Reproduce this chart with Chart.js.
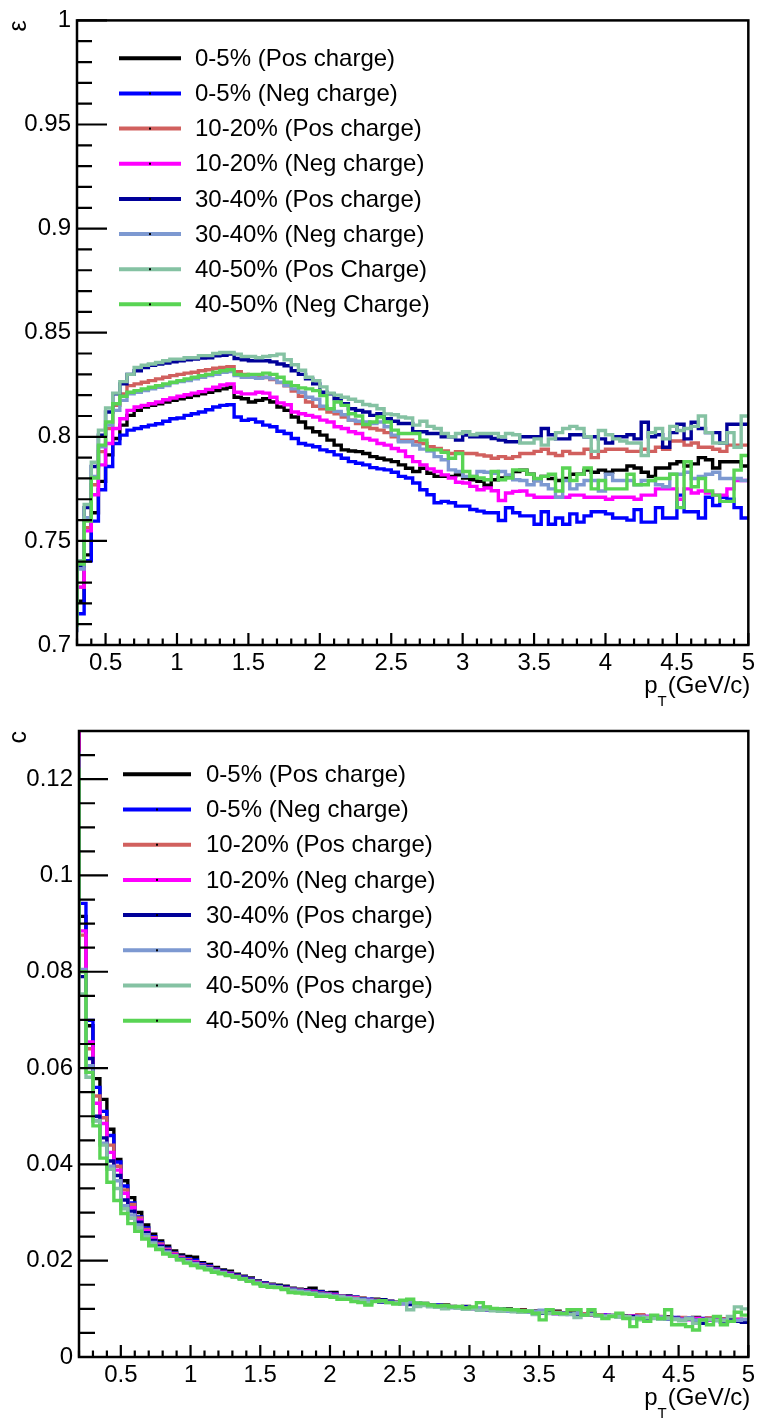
<!DOCTYPE html>
<html><head><meta charset="utf-8">
<script src="https://cdn.jsdelivr.net/npm/chart.js@4.4.1/dist/chart.umd.min.js"></script>
<style>
html,body{margin:0;padding:0;background:#fff;}
#wrap{position:relative;width:759px;height:1420px;overflow:hidden;}
.pane{position:absolute;left:0;width:759px;height:710px;}
canvas{display:block;}
</style></head><body>
<div id="wrap">
<div class="pane" style="top:0"><canvas id="c1" width="759" height="710"></canvas></div>
<div class="pane" style="top:710px"><canvas id="c2" width="759" height="710"></canvas></div>
</div>
<script>
// ---------------- categories / labels ----------------
const topLabels = ['0-5% (Pos charge)','0-5% (Neg charge)','10-20% (Pos charge)','10-20% (Neg charge)','30-40% (Pos charge)','30-40% (Neg charge)','40-50% (Pos Charge)','40-50% (Neg Charge)'];
const bottomLabels = ['0-5% (Pos charge)','0-5% (Neg charge)','10-20% (Pos charge)','10-20% (Neg charge)','30-40% (Pos charge)','30-40% (Neg charge)','40-50% (Pos charge)','40-50% (Neg charge)'];
const seriesColors = ['#000000','#0000ff','#d1605e','#ff00ff','#000099','#7d99d1','#85c2a3','#59d454'];

// tick labels
const topXTicks = [0.5,1,1.5,2,2.5,3,3.5,4,4.5,5];
const topYTicks = [0.7,0.75,0.8,0.85,0.9,0.95,1];
const botXTicks = [0.5,1,1.5,2,2.5,3,3.5,4,4.5,5];
const botYTicks = [0,0.02,0.04,0.06,0.08,0.1,0.12];

// ---------------- top panel: efficiency (bins of 0.05 from 0.30) ----------------
const topBinStart = 0.3, topBinWidth = 0.05;
// content of the bin just below the visible range (0.25-0.30), where visible
const topUnderflow = [null,null,null,null,null,0.707,null,0.7095];
const effBlack = [0.721,0.7433,0.7635,0.7786,0.7913,0.7992,0.8056,0.8103,0.8127,0.8143,
0.8151,0.8159,0.8167,0.8175,0.8183,0.819,0.8198,0.8206,0.8214,0.8222,
0.823,0.8238,0.819,0.8183,0.8167,0.8175,0.8183,0.8167,0.8143,0.8127,
0.8095,0.8071,0.8043,0.8024,0.8008,0.7984,0.796,0.7937,0.7932,0.7929,
0.792,0.7905,0.7897,0.7889,0.7881,0.7865,0.7849,0.7833,0.7849,0.7825,
0.781,0.781,0.781,0.7817,0.7802,0.7794,0.7786,0.7767,0.7794,0.7802,
0.781,0.7833,0.784,0.782,0.779,0.781,0.780,0.779,0.780,0.782,
0.782,0.784,0.783,0.784,0.783,0.784,0.784,0.786,0.785,0.783,
0.781,0.785,0.785,0.787,0.788,0.786,0.787,0.790,0.789,0.785,
0.788,0.788,0.788,0.786];
const effBlue = [0.715,0.7405,0.7595,0.7746,0.7857,0.7968,0.8008,0.8032,0.804,0.8048,
0.8056,0.8063,0.8075,0.8087,0.809,0.8103,0.8111,0.8119,0.813,0.8143,
0.8151,0.8154,0.8095,0.8079,0.8084,0.8071,0.8056,0.8048,0.8027,0.8016,
0.7992,0.7968,0.796,0.7952,0.7937,0.7929,0.7913,0.7897,0.7881,0.7873,
0.7865,0.7852,0.7846,0.7841,0.783,0.781,0.7802,0.7778,0.7746,0.7722,
0.7683,0.769,0.7683,0.7667,0.7667,0.7651,0.7643,0.7635,0.7635,0.7598,
0.7659,0.7635,0.762,0.762,0.758,0.764,0.758,0.761,0.758,0.763,
0.759,0.762,0.764,0.764,0.763,0.761,0.761,0.760,0.765,0.759,
0.759,0.766,0.761,0.761,0.772,0.764,0.764,0.761,0.771,0.767,
0.771,0.770,0.766,0.761];
const effRed = [0.7278,0.7563,0.777,0.7929,0.804,0.8151,0.8206,0.8246,0.8254,0.8262,
0.827,0.8278,0.8286,0.8294,0.830,0.8306,0.831,0.8317,0.8322,0.8329,
0.8333,0.8337,0.8313,0.830,0.8297,0.829,0.8285,0.8275,0.826,0.8245,
0.822,0.8195,0.8167,0.8147,0.8135,0.8119,0.8111,0.8095,0.808,0.8064,
0.8048,0.804,0.8032,0.802,0.800,0.7984,0.7984,0.7976,0.7968,0.7952,
0.7944,0.7932,0.792,0.7929,0.792,0.792,0.7913,0.7908,0.7897,0.7905,
0.7897,0.7905,0.792,0.792,0.793,0.794,0.792,0.791,0.793,0.792,
0.792,0.794,0.790,0.793,0.794,0.794,0.794,0.793,0.793,0.794,
0.793,0.795,0.794,0.798,0.798,0.796,0.797,0.795,0.795,0.794,
0.793,0.796,0.796,0.796];
const effMagenta = [0.7278,0.7548,0.7722,0.7865,0.7968,0.804,0.8087,0.8127,0.8143,0.8151,
0.8159,0.8167,0.8178,0.8186,0.8195,0.8202,0.821,0.8217,0.8227,0.8238,
0.8249,0.8254,0.8214,0.8206,0.8206,0.8214,0.821,0.819,0.8163,0.8154,
0.8119,0.8111,0.8103,0.8095,0.808,0.8071,0.8048,0.804,0.8024,0.8016,
0.7992,0.7984,0.7968,0.796,0.7944,0.7932,0.7905,0.7881,0.7865,0.7846,
0.7833,0.7817,0.7802,0.7782,0.7778,0.7762,0.7746,0.7754,0.7741,0.7694,
0.773,0.7738,0.774,0.772,0.771,0.771,0.771,0.771,0.771,0.772,
0.772,0.771,0.771,0.771,0.770,0.771,0.771,0.771,0.770,0.772,
0.772,0.775,0.775,0.775,0.770,0.775,0.773,0.774,0.773,0.772,
0.772,0.775,0.779,0.779];
const effDarkBlue = [0.738,0.766,0.7857,0.8008,0.8119,0.8206,0.8254,0.830,0.8317,0.8333,
0.8344,0.835,0.8354,0.836,0.8365,0.837,0.8373,0.8378,0.838,0.8389,
0.8392,0.8397,0.8376,0.837,0.8365,0.8365,0.8365,0.836,0.835,0.8341,
0.8317,0.830,0.8278,0.8254,0.8214,0.8206,0.8183,0.8159,0.8135,0.8127,
0.8119,0.8103,0.8111,0.8087,0.8075,0.8064,0.8064,0.8024,0.8024,0.8016,
0.8016,0.800,0.800,0.7984,0.8008,0.800,0.800,0.800,0.7992,0.7984,
0.7976,0.7976,0.800,0.800,0.800,0.804,0.801,0.799,0.799,0.801,
0.801,0.800,0.800,0.799,0.797,0.800,0.800,0.801,0.799,0.807,
0.800,0.801,0.795,0.802,0.806,0.799,0.807,0.804,0.802,0.802,
0.797,0.806,0.806,0.806];
const effLightBlue = [0.7365,0.7611,0.781,0.7952,0.8056,0.8127,0.8175,0.8206,0.8214,0.8222,
0.823,0.8238,0.8246,0.8259,0.8265,0.827,0.8278,0.8286,0.8294,0.830,
0.831,0.8313,0.8294,0.8286,0.8286,0.8281,0.8286,0.8278,0.8262,0.8246,
0.823,0.8214,0.819,0.818,0.8147,0.8135,0.8122,0.8106,0.808,0.8075,
0.8071,0.8064,0.8071,0.8048,0.8008,0.7976,0.7976,0.796,0.7941,0.7932,
0.7905,0.789,0.7841,0.7833,0.781,0.781,0.7833,0.783,0.7825,0.7833,
0.7817,0.7794,0.779,0.777,0.779,0.777,0.775,0.771,0.779,0.775,
0.777,0.779,0.779,0.774,0.782,0.779,0.779,0.779,0.777,0.779,
0.779,0.777,0.776,0.782,0.782,0.783,0.780,0.781,0.782,0.783,
0.780,0.780,0.780,0.779];
const effTeal = [0.7405,0.7675,0.7878,0.8032,0.8138,0.821,0.8265,0.830,0.8333,0.8344,
0.835,0.8357,0.8365,0.8373,0.8373,0.838,0.838,0.839,0.839,0.840,
0.8405,0.8405,0.8397,0.8386,0.8386,0.838,0.8386,0.839,0.8397,0.837,
0.8346,0.832,0.8286,0.827,0.824,0.821,0.820,0.819,0.818,0.817,
0.8155,0.815,0.8135,0.811,0.8106,0.8095,0.809,0.8056,0.8075,0.805,
0.804,0.8016,0.800,0.8016,0.8024,0.801,0.8016,0.8016,0.8016,0.800,
0.8016,0.801,0.797,0.797,0.799,0.796,0.799,0.802,0.804,0.805,
0.804,0.800,0.793,0.803,0.801,0.799,0.798,0.797,0.797,0.791,
0.802,0.804,0.799,0.805,0.803,0.804,0.805,0.810,0.802,0.797,
0.797,0.802,0.795,0.810];
const effGreen = [0.7389,0.7595,0.7802,0.796,0.8071,0.8159,0.8195,0.8214,0.8222,0.823,
0.8238,0.8246,0.8254,0.8262,0.827,0.8278,0.8286,0.8294,0.830,0.831,
0.8317,0.8322,0.830,0.8297,0.830,0.830,0.8306,0.830,0.8286,0.8262,
0.8246,0.8235,0.823,0.8222,0.8198,0.8135,0.8167,0.8151,0.8111,0.810,
0.8059,0.8071,0.8095,0.8071,0.8032,0.8016,0.8016,0.8016,0.7984,0.7937,
0.7937,0.7925,0.7897,0.792,0.7833,0.781,0.7802,0.7794,0.7833,0.7794,
0.7802,0.7841,0.784,0.782,0.780,0.781,0.782,0.774,0.785,0.779,
0.782,0.785,0.775,0.779,0.775,0.775,0.775,0.782,0.777,0.777,
0.779,0.780,0.780,0.782,0.766,0.788,0.776,0.780,0.774,0.772,
0.769,0.769,0.784,0.791];

// ---------------- bottom panel: c (bins of 0.05 from 0.20) ----------------
const botBinStart = 0.2, botBinWidth = 0.05;
const botUnderflow = [0.14,0.14,0.14,0.14,0.12,0.1254,0.12,0.122];
const cBlack = [0.0915,0.0688,0.0578,0.0535,0.0473,0.0410,0.0366,0.0331,0.0300,0.0274,
0.0255,0.0241,0.0230,0.0220,0.0212,0.0209,0.0207,0.0196,0.0192,0.0186,
0.0181,0.0178,0.0172,0.0168,0.0164,0.0158,0.0154,0.0151,0.0149,0.0147,
0.0143,0.0141,0.0140,0.0143,0.0136,0.0133,0.0134,0.0127,0.0127,0.0124,
0.0122,0.0119,0.0120,0.0119,0.0115,0.0114,0.0113,0.0112,0.0110,0.0111,
0.0108,0.0107,0.0108,0.0105,0.0104,0.0105,0.0102,0.0101,0.0103,0.0100,
0.0099,0.0100,0.0097,0.0098,0.0095,0.0096,0.0094,0.0093,0.0095,0.0091,
0.0092,0.0090,0.0089,0.0091,0.0087,0.0088,0.0086,0.0087,0.0085,0.0084,
0.0086,0.0082,0.0083,0.0081,0.0083,0.0080,0.0081,0.0079,0.0082,0.0078,
0.0080,0.0077,0.0079,0.0076,0.0078,0.0077];
const cBlue = [0.0942,0.0699,0.0560,0.0510,0.0460,0.0405,0.0355,0.0320,0.0291,0.0268,
0.0250,0.0237,0.0226,0.0216,0.0209,0.0204,0.0201,0.0193,0.0189,0.0183,
0.0178,0.0175,0.0170,0.0166,0.0162,0.0157,0.0153,0.0150,0.0147,0.0145,
0.0142,0.0140,0.0138,0.0137,0.0135,0.0132,0.0131,0.0127,0.0126,0.0124,
0.0121,0.0120,0.0118,0.0118,0.0115,0.0113,0.0112,0.0110,0.0111,0.0108,
0.0107,0.0108,0.0105,0.0104,0.0103,0.0104,0.0101,0.0100,0.0101,0.0098,
0.0099,0.0097,0.0098,0.0095,0.0096,0.0094,0.0093,0.0094,0.0091,0.0092,
0.0090,0.0091,0.0088,0.0089,0.0087,0.0088,0.0085,0.0086,0.0084,0.0086,
0.0083,0.0084,0.0081,0.0083,0.0080,0.0082,0.0079,0.0081,0.0078,0.0080,
0.0077,0.0079,0.0076,0.0078,0.0075,0.0077];
const cRed = [0.0876,0.0640,0.0542,0.0497,0.0440,0.0396,0.0347,0.0317,0.0289,0.0265,
0.0248,0.0235,0.0224,0.0215,0.0207,0.0202,0.0198,0.0191,0.0187,0.0182,
0.0177,0.0174,0.0169,0.0165,0.0161,0.0156,0.0152,0.0149,0.0146,0.0144,
0.0141,0.0139,0.0137,0.0136,0.0133,0.0131,0.0130,0.0127,0.0125,0.0123,
0.0122,0.0119,0.0118,0.0117,0.0116,0.0113,0.0112,0.0111,0.0110,0.0109,
0.0107,0.0106,0.0107,0.0104,0.0103,0.0102,0.0103,0.0100,0.0099,0.0100,
0.0098,0.0097,0.0096,0.0097,0.0094,0.0095,0.0093,0.0092,0.0093,0.0090,
0.0091,0.0089,0.0090,0.0087,0.0088,0.0086,0.0087,0.0085,0.0084,0.0086,
0.0088,0.0083,0.0082,0.0084,0.0081,0.0080,0.0082,0.0079,0.0080,0.0078,
0.0081,0.0077,0.0079,0.0078,0.0076,0.0078];
const cMagenta = [0.0885,0.0654,0.0527,0.0485,0.0425,0.0388,0.0340,0.0310,0.0284,0.0262,
0.0245,0.0232,0.0222,0.0213,0.0205,0.0200,0.0197,0.0190,0.0186,0.0181,
0.0176,0.0173,0.0168,0.0164,0.0160,0.0155,0.0151,0.0148,0.0146,0.0143,
0.0140,0.0138,0.0137,0.0135,0.0132,0.0131,0.0129,0.0126,0.0125,0.0122,
0.0121,0.0119,0.0117,0.0117,0.0115,0.0113,0.0111,0.0110,0.0109,0.0108,
0.0106,0.0106,0.0104,0.0103,0.0104,0.0101,0.0100,0.0101,0.0098,0.0099,
0.0097,0.0096,0.0097,0.0093,0.0095,0.0094,0.0092,0.0093,0.0090,0.0091,
0.0089,0.0090,0.0087,0.0088,0.0086,0.0087,0.0085,0.0086,0.0083,0.0085,
0.0082,0.0084,0.0081,0.0083,0.0080,0.0081,0.0079,0.0077,0.0080,0.0078,
0.0076,0.0079,0.0077,0.0075,0.0078,0.0077];
const cDarkBlue = [0.0790,0.0620,0.0500,0.0455,0.0407,0.0377,0.0326,0.0303,0.0280,0.0258,
0.0242,0.0230,0.0220,0.0211,0.0204,0.0199,0.0195,0.0189,0.0185,0.0180,
0.0176,0.0172,0.0168,0.0164,0.0160,0.0155,0.0151,0.0148,0.0145,0.0143,
0.0140,0.0138,0.0136,0.0134,0.0132,0.0130,0.0128,0.0126,0.0124,0.0121,
0.0121,0.0118,0.0117,0.0114,0.0116,0.0112,0.0111,0.0109,0.0108,0.0108,
0.0106,0.0105,0.0103,0.0104,0.0101,0.0100,0.0101,0.0099,0.0098,0.0097,
0.0098,0.0095,0.0096,0.0094,0.0093,0.0094,0.0091,0.0092,0.0090,0.0089,
0.0090,0.0088,0.0087,0.0088,0.0086,0.0085,0.0086,0.0084,0.0083,0.0084,
0.0082,0.0081,0.0083,0.0080,0.0079,0.0081,0.0078,0.0079,0.0077,0.0070,
0.0078,0.0076,0.0072,0.0077,0.0074,0.0072];
const cLightBlue = [0.0805,0.0605,0.0491,0.0444,0.0396,0.0366,0.0314,0.0295,0.0274,0.0254,
0.0238,0.0227,0.0218,0.0210,0.0203,0.0198,0.0194,0.0188,0.0184,0.0179,
0.0175,0.0171,0.0167,0.0163,0.0159,0.0154,0.0150,0.0147,0.0145,0.0142,
0.0139,0.0137,0.0135,0.0133,0.0131,0.0130,0.0127,0.0126,0.0123,0.0121,
0.0120,0.0118,0.0116,0.0116,0.0114,0.0113,0.0111,0.0114,0.0107,0.0108,
0.0106,0.0104,0.0106,0.0102,0.0103,0.0101,0.0100,0.0102,0.0098,0.0097,
0.0099,0.0095,0.0097,0.0094,0.0093,0.0095,0.0097,0.0091,0.0092,0.0090,
0.0088,0.0090,0.0087,0.0089,0.0086,0.0085,0.0087,0.0084,0.0083,0.0080,
0.0084,0.0082,0.0081,0.0083,0.0079,0.0080,0.0078,0.0081,0.0077,0.0076,
0.0078,0.0075,0.0077,0.0074,0.0076,0.0078];
const cTeal = [0.0754,0.0581,0.0490,0.0440,0.0390,0.0350,0.0308,0.0288,0.0268,0.0250,
0.0235,0.0225,0.0216,0.0210,0.0202,0.0197,0.0192,0.0187,0.0183,0.0178,
0.0174,0.0170,0.0166,0.0162,0.0158,0.0153,0.0149,0.0146,0.0145,0.0142,
0.0137,0.0135,0.0134,0.0132,0.0129,0.0128,0.0126,0.0124,0.0122,0.0120,
0.0117,0.0112,0.0116,0.0116,0.0113,0.0112,0.0117,0.0098,0.0105,0.0107,
0.0104,0.0103,0.0100,0.0104,0.0101,0.0099,0.0100,0.0097,0.0099,0.0096,
0.0095,0.0097,0.0094,0.0093,0.0096,0.0088,0.0092,0.0090,0.0091,0.0088,
0.0089,0.0082,0.0087,0.0088,0.0085,0.0084,0.0086,0.0083,0.0084,0.0081,
0.0077,0.0082,0.0080,0.0079,0.0081,0.0078,0.0075,0.0079,0.0070,0.0077,
0.0078,0.0076,0.0075,0.0084,0.0104,0.0100];
const cGreen = [0.0800,0.0591,0.0480,0.0413,0.0363,0.0325,0.0298,0.0277,0.0261,0.0245,
0.0231,0.0223,0.0214,0.0209,0.0202,0.0195,0.0190,0.0185,0.0181,0.0176,
0.0173,0.0169,0.0166,0.0162,0.0157,0.0152,0.0147,0.0145,0.0144,0.0140,
0.0134,0.0133,0.0131,0.0130,0.0126,0.0126,0.0124,0.0120,0.0120,0.0115,
0.0113,0.0108,0.0115,0.0117,0.0113,0.0110,0.0118,0.0120,0.0112,0.0111,
0.0108,0.0106,0.0107,0.0104,0.0105,0.0102,0.0104,0.0113,0.0104,0.0101,
0.0100,0.0099,0.0098,0.0096,0.0095,0.0091,0.0077,0.0098,0.0091,0.0091,
0.0098,0.0098,0.0087,0.0098,0.0087,0.0080,0.0084,0.0091,0.0080,0.0063,
0.0080,0.0074,0.0087,0.0080,0.0098,0.0067,0.0067,0.0063,0.0056,0.0077,
0.0067,0.0084,0.0067,0.0074,0.0093,0.0087];

const topSeries = [effBlack,effBlue,effRed,effMagenta,effDarkBlue,effLightBlue,effTeal,effGreen];
const botSeries = [cBlack,cBlue,cRed,cMagenta,cDarkBlue,cLightBlue,cTeal,cGreen];

// ---------------- helpers ----------------
const FONT = '"Liberation Sans", Arial, Helvetica, sans-serif';
Chart.defaults.font.family = FONT;
Chart.defaults.color = '#000';

function histPoints(vals, start, width, under) {
  const pts = [];
  const r = v => Math.round(v * 10000) / 10000;
  if (under !== null && under !== undefined) pts.push({x: r(start - width), y: under});
  vals.forEach((v, i) => pts.push({x: r(start + i * width), y: v}));
  pts.push({x: r(start + vals.length * width), y: vals[vals.length - 1]});
  return pts;
}

function makeChart(canvasId, cfg) {
  const cv = document.getElementById(canvasId);
  const W = cv.width, H = cv.height, A = cfg.area;
  const datasets = cfg.series.map((vals, i) => ({
    label: cfg.labels[i],
    data: histPoints(vals, cfg.binStart, cfg.binWidth, cfg.under[i]),
    borderColor: seriesColors[i],
    backgroundColor: seriesColors[i],
    borderWidth: 3.4,
    stepped: 'before',
    fill: false,
    pointRadius: 0,
    order: cfg.series.length - i
  }));
  const tickFont = {family: FONT, size: 24};
  const plugin = {
    id: 'rootStyle_' + canvasId,
    afterDatasetsDraw(chart) {
      const {ctx, chartArea: a} = chart;
      const xs = chart.scales.x, ys = chart.scales.y;
      ctx.save();
      ctx.strokeStyle = '#000';
      ctx.lineWidth = 2.2;
      ctx.beginPath();
      const ny = Math.round((cfg.yMax - cfg.yMin) / cfg.yMinor);
      for (let i = 0; i <= ny; i++) {
        const v = cfg.yMin + i * cfg.yMinor;
        const q = v / cfg.yMajor;
        const major = Math.abs(q - Math.round(q)) < 1e-6;
        const p = ys.getPixelForValue(v);
        ctx.moveTo(a.left, p);
        ctx.lineTo(a.left + (major ? cfg.yMajLen : cfg.yMinLen), p);
      }
      const i0 = Math.ceil(cfg.xMin / cfg.xMinor - 1e-6), i1 = Math.floor(cfg.xMax / cfg.xMinor + 1e-6);
      for (let i = i0; i <= i1; i++) {
        const v = i * cfg.xMinor;
        const q = v / cfg.xMajor;
        const major = Math.abs(q - Math.round(q)) < 1e-6;
        const p = xs.getPixelForValue(v);
        ctx.moveTo(p, a.bottom);
        ctx.lineTo(p, a.bottom - (major ? 12 : 6.5));
      }
      ctx.stroke();
      ctx.lineWidth = 2.5;
      ctx.strokeRect(a.left, a.top, a.right - a.left, a.bottom - a.top);
      ctx.restore();
    },
    afterDraw(chart) {
      const {ctx, chartArea: a} = chart;
      ctx.save();
      // legend
      const L = cfg.legend;
      ctx.font = '24px ' + FONT;
      ctx.textBaseline = 'middle';
      ctx.textAlign = 'left';
      chart.data.datasets.forEach((ds, i) => {
        const y = L.y0 + i * L.dy;
        ctx.strokeStyle = ds.borderColor;
        ctx.lineWidth = 4;
        ctx.beginPath();
        ctx.moveTo(L.x0, y); ctx.lineTo(L.x1, y);
        ctx.stroke();
        ctx.fillStyle = '#000';
        ctx.fillRect((L.x0 + L.x1) / 2 - 1, y - 1, 2, 2);
        ctx.fillText(ds.label, L.tx, y + 1);
      });
      // x title  p_T(GeV/c)
      ctx.textBaseline = 'alphabetic';
      ctx.fillStyle = '#000';
      ctx.font = '24px ' + FONT;
      const rest = '(GeV/c)';
      const wRest = ctx.measureText(rest).width;
      const xEnd = a.right + 2;
      const base = a.bottom + 48;
      ctx.fillText(rest, xEnd - wRest, base);
      ctx.font = '15px ' + FONT;
      const wT = ctx.measureText('T').width;
      ctx.fillText('T', xEnd - wRest - wT - 1, base + 13);
      ctx.font = '24px ' + FONT;
      const wp = ctx.measureText('p').width;
      ctx.fillText('p', xEnd - wRest - wT - 1 - wp, base);
      // y title, rotated, aligned at the top of the axis
      ctx.save();
      ctx.translate(26, a.top);
      ctx.rotate(-Math.PI / 2);
      ctx.textAlign = 'right';
      ctx.font = '25px ' + FONT;
      ctx.fillText(cfg.yTitle, 0, 0);
      ctx.restore();
      ctx.restore();
    }
  };
  return new Chart(cv, {
    type: 'line',
    data: {datasets},
    options: {
      responsive: false,
      animation: false,
      events: [],
      layout: {padding: {left: 0, top: A.top, right: W - A.right, bottom: 0}},
      plugins: {legend: {display: false}, tooltip: {enabled: false}},
      elements: {point: {radius: 0}, line: {tension: 0}},
      scales: {
        x: {
          type: 'linear', min: cfg.xMin, max: cfg.xMax,
          grid: {display: false, drawTicks: false},
          border: {display: false},
          afterBuildTicks: s => { s.ticks = cfg.xTicks.map(v => ({value: v})); },
          afterFit: s => { s.height = H - A.bottom; },
          ticks: {font: tickFont, color: '#000', padding: 4, maxRotation: 0, autoSkip: false,
                  callback: v => String(v)}
        },
        y: {
          type: 'linear', min: cfg.yMin, max: cfg.yMax,
          grid: {display: false, drawTicks: false},
          border: {display: false},
          afterBuildTicks: s => { s.ticks = cfg.yTicks.map(v => ({value: v})); },
          afterFit: s => { s.width = A.left; },
          ticks: {font: tickFont, color: '#000', padding: 6, autoSkip: false,
                  callback: v => String(v)}
        }
      }
    },
    plugins: [plugin]
  });
}

makeChart('c1', {
  series: topSeries, labels: topLabels, under: topUnderflow,
  binStart: topBinStart, binWidth: topBinWidth,
  xMin: 0.3, xMax: 5, yMin: 0.7, yMax: 1,
  xTicks: topXTicks, yTicks: topYTicks,
  xMinor: 0.1, xMajor: 0.5, yMinor: 0.01, yMajor: 0.05, yMajLen: 30, yMinLen: 15,
  area: {left: 77, top: 15, right: 750, bottom: 645},
  legend: {x0: 119, x1: 181, tx: 195, y0: 58.3, dy: 35.15},
  yTitle: 'ε'
});
makeChart('c2', {
  series: botSeries, labels: bottomLabels, under: botUnderflow,
  binStart: botBinStart, binWidth: botBinWidth,
  xMin: 0.2, xMax: 5, yMin: 0, yMax: 0.13,
  xTicks: botXTicks, yTicks: botYTicks,
  xMinor: 0.1, xMajor: 0.5, yMinor: 0.005, yMajor: 0.02, yMajLen: 29, yMinLen: 16,
  area: {left: 79, top: 21, right: 749, bottom: 647},
  legend: {x0: 123, x1: 191, tx: 206, y0: 64.3, dy: 35.2},
  yTitle: 'c'
});
</script>
</body></html>
